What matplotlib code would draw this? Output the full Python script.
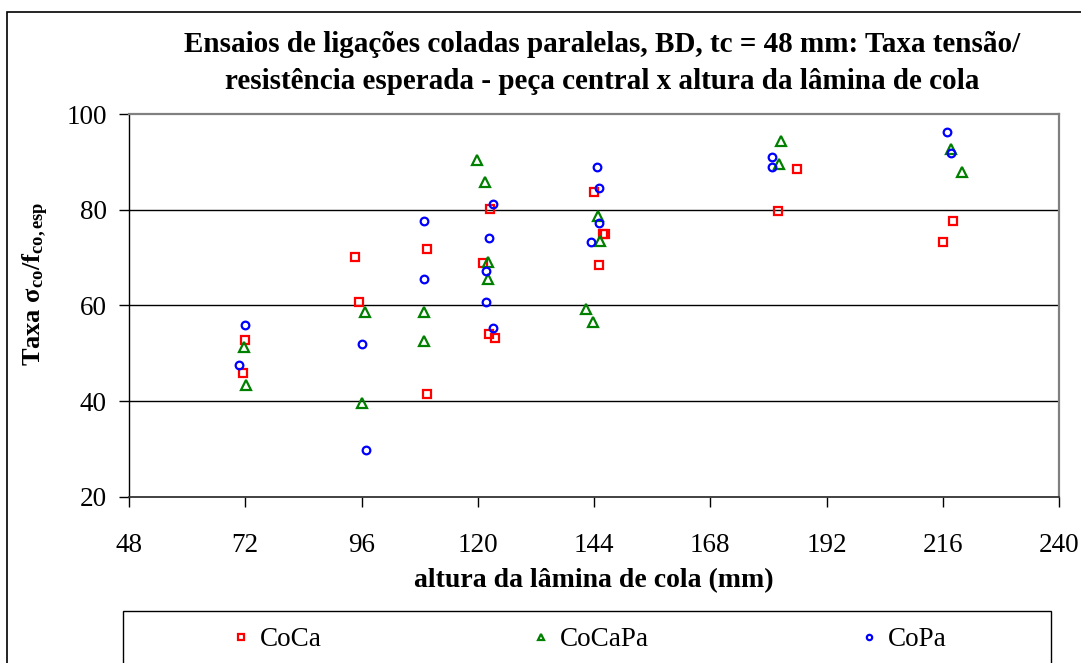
import matplotlib
matplotlib.use("Agg")
import matplotlib.pyplot as plt
from matplotlib.patches import Rectangle

# ---- data ----
coca_x = [94.6, 95.4, 72.0, 71.6, 109.6, 109.6, 122.5, 121.0, 122.3, 123.6,
          143.9, 145.8, 146.2, 145.0, 181.9, 185.9, 218.1, 216.1]
coca_y = [70.1, 60.8, 52.8, 45.9, 71.7, 41.5, 80.1, 68.8, 54.0, 53.2,
          83.7, 75.0, 75.0, 68.5, 79.8, 88.6, 77.7, 73.3]

cocapa_x = [71.8, 72.1, 96.8, 96.0, 109.0, 109.0, 119.8, 121.4, 122.2, 122.2,
            144.8, 145.2, 142.4, 143.7, 182.6, 182.2, 217.8, 219.9]
cocapa_y = [51.3, 43.3, 58.6, 39.6, 58.6, 52.6, 90.3, 85.8, 69.0, 65.6,
            78.7, 73.4, 59.3, 56.5, 94.4, 89.5, 92.7, 87.9]

copa_x = [71.9, 70.7, 96.2, 96.9, 108.8, 108.8, 123.1, 122.4, 121.6, 121.6,
          123.1, 144.6, 145.0, 145.0, 143.4, 180.7, 180.7, 216.9, 217.6]
copa_y = [56.0, 47.5, 52.0, 29.9, 77.7, 65.6, 81.3, 74.1, 67.2, 60.8,
          55.2, 89.0, 84.5, 77.3, 73.3, 91.0, 89.0, 96.2, 91.8]

series_names = ["CoCa", "CoCaPa", "CoPa"]
x_ticks = [48, 72, 96, 120, 144, 168, 192, 216, 240]
y_ticks = [20, 40, 60, 80, 100]

title = ("Ensaios de ligações coladas paralelas, BD, tc = 48 mm: Taxa tensão/\n"
         "resistência esperada - peça central x altura da lâmina de cola")
xlabel = "altura da lâmina de cola (mm)"
ylabel = r"Taxa σ$_{\mathbf{co}}$/f$_{\mathbf{co,esp}}$"

# ---- style ----
plt.rcParams["font.family"] = ["Liberation Serif", "DejaVu Serif"]
plt.rcParams["mathtext.fontset"] = "custom"
plt.rcParams["mathtext.rm"] = "Liberation Serif"
plt.rcParams["mathtext.bf"] = "Liberation Serif:bold"
plt.rcParams["mathtext.it"] = "Liberation Serif:italic"

W, H = 1081, 663
fig = plt.figure(figsize=(W / 100, H / 100), dpi=100)
fig.patch.set_facecolor("white")

def fx(px):
    return px / W

def fy(py):
    return 1 - py / H

ax = fig.add_axes([fx(129), fy(497), fx(1059) - fx(129), fy(114) - fy(497)])

red, green, blue = "#FF0000", "#008000", "#0000FF"
ax.plot(coca_x, coca_y, ls="none", marker="s", ms=5.5, mfc="none", mec=red, mew=1.6,
        label=series_names[0], zorder=3)
ax.plot(cocapa_x, cocapa_y, ls="none", marker="^", ms=6.5, mfc="none", mec=green, mew=1.6,
        label=series_names[1], zorder=3)
ax.plot(copa_x, copa_y, ls="none", marker="o", ms=5.5, mfc="none", mec=blue, mew=1.6,
        label=series_names[2], zorder=3)

ax.set_xlim(48, 240)
ax.set_ylim(20, 100)
ax.set_xticks(x_ticks)
ax.set_yticks(y_ticks)
ax.tick_params(axis="both", direction="out", length=7, width=1, colors="black",
               labelsize=19.5)
ax.tick_params(axis="x", pad=19)
ax.tick_params(axis="y", pad=9)

for y in [40, 60, 80]:
    ax.axhline(y, color="black", lw=1, zorder=1)

ax.spines["top"].set_color("#808080")
ax.spines["top"].set_linewidth(1.6)
ax.spines["right"].set_color("#808080")
ax.spines["right"].set_linewidth(1.6)
ax.spines["left"].set_color("black")
ax.spines["left"].set_linewidth(1)
ax.spines["bottom"].set_color("#333333")
ax.spines["bottom"].set_linewidth(1.3)

ax.set_xlabel(xlabel, fontsize=20, fontweight="bold", labelpad=7)
fig.text(fx(36), fy(284), ylabel, rotation=90, fontsize=19, fontweight="bold",
         ha="center", va="center")

fig.text(fx(602), fy(63), title, fontsize=21, fontweight="bold", ha="center",
         va="center", linespacing=1.5)

# figure border (left & top visible)
fig.add_artist(Rectangle((fx(7), -0.2), 1.2, fy(12) + 0.2, transform=fig.transFigure,
                         fill=False, edgecolor="black", lw=1.2, clip_on=False))

# legend box
fig.add_artist(Rectangle((fx(123), -0.2), fx(1051) - fx(123), fy(611) + 0.2,
                         transform=fig.transFigure, fill=False, edgecolor="black",
                         lw=1, clip_on=False))
handles, labels = ax.get_legend_handles_labels()
leg = fig.legend(handles, labels, loc="center left", ncol=3, frameon=False,
                 bbox_to_anchor=(fx(214), fy(640)), fontsize=19.5,
                 handlelength=1.0, handletextpad=0.2, columnspacing=7.6,
                 borderpad=0, markerscale=0.7)

fig.savefig("out.png", dpi=100)
